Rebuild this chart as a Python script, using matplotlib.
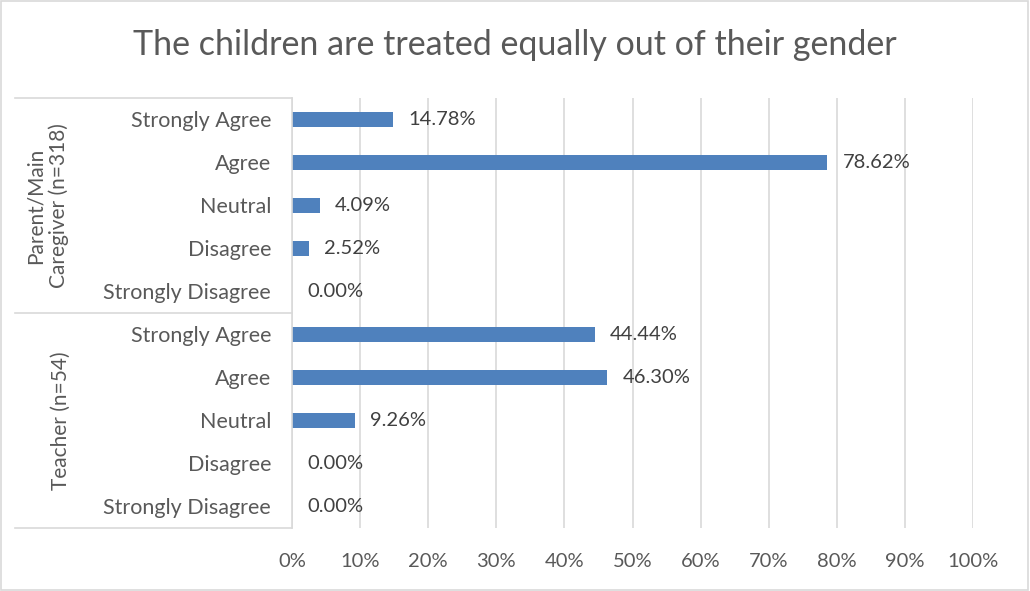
import numpy as np
import matplotlib.pyplot as plt
from matplotlib.patches import Rectangle

plt.rcParams["font.family"] = ["Lato", "DejaVu Sans"]

# Data
groups = ["Parent/Main\nCaregiver (n=318)", "Teacher (n=54)"]
responses = ["Strongly Agree", "Agree", "Neutral", "Disagree", "Strongly Disagree"]
parent_pct = [14.78, 78.62, 4.09, 2.52, 0.00]
teacher_pct = [44.44, 46.30, 9.26, 0.00, 0.00]
xticks = [0, 10, 20, 30, 40, 50, 60, 70, 80, 90, 100]

text_grey = "#595959"
label_grey = "#404040"
grid_grey = "#d9d9d9"
bar_blue = "#4F81BD"

fig = plt.figure(figsize=(10.3, 5.91), dpi=100)
ax = fig.add_axes([292 / 1030, 63 / 591, 681 / 1030, 430 / 591])

values = parent_pct + teacher_pct
labels = responses + responses
y = np.arange(len(values))
ax.barh(y, values, height=0.37, color=bar_blue)
ax.set_ylim(len(values) - 0.5, -0.5)
ax.set_xlim(0, 100)

for yi, v in zip(y, values):
    ax.annotate(f"{v:.2f}%", (v, yi), xytext=(11, 0), textcoords="offset points",
                va="center", ha="left", fontsize=14.5, color=label_grey)

ax.set_yticks(y)
ax.set_yticklabels(labels, fontsize=15.5, color=text_grey)
ax.set_xticks(xticks)
ax.set_xticklabels([f"{t}%" for t in xticks], fontsize=14.5, color=text_grey)
ax.tick_params(axis="both", length=0)
ax.tick_params(axis="y", pad=15)
ax.tick_params(axis="x", pad=18)

ax.grid(axis="x", color=grid_grey, lw=1.2)
ax.set_axisbelow(True)
for s in ["top", "right", "bottom"]:
    ax.spines[s].set_visible(False)
ax.spines["left"].set_color(grid_grey)
ax.spines["left"].set_linewidth(1.2)

# multi-level category box
x0 = (15 - 292) / 681
for yy in [-0.5, 4.5, 9.5]:
    ax.plot([x0, 0], [yy, yy], color=grid_grey, lw=1.2, clip_on=False,
            transform=ax.get_yaxis_transform())
ax.text((47 - 292) / 681, 2, groups[0], rotation=90, ha="center", va="center",
        fontsize=15, color=text_grey, transform=ax.get_yaxis_transform(),
        linespacing=1.15)
ax.text((61 - 292) / 681, 7, groups[1], rotation=90, ha="center", va="center",
        fontsize=15, color=text_grey, transform=ax.get_yaxis_transform())

fig.text(0.5, 1 - 45 / 591, "The children are treated equally out of their gender",
         ha="center", va="center", fontsize=24.5, color=text_grey)

fig.patches.append(Rectangle((0.001, 0.001), 0.997, 0.997, transform=fig.transFigure,
                             fill=False, edgecolor=grid_grey, lw=1.2))

fig.savefig("out.png", dpi=100)
